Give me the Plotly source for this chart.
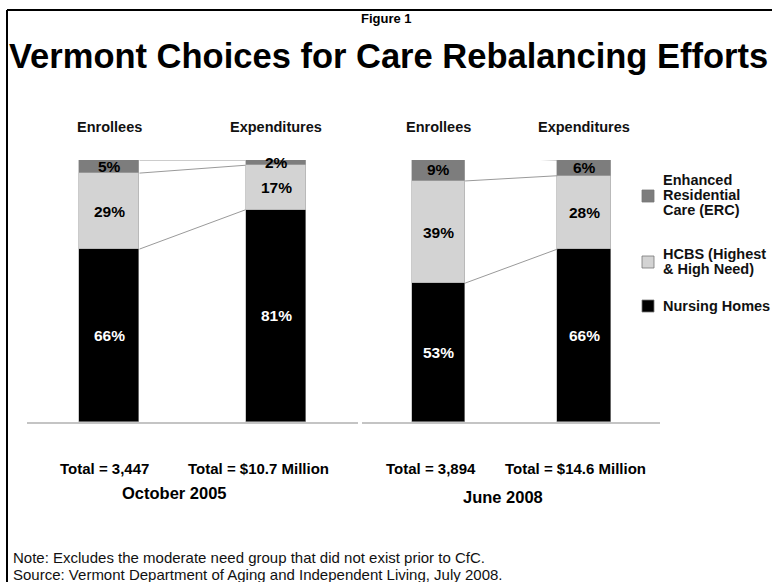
import plotly.graph_objects as go
import numpy as np

# ---- data ----
categories = ["Enrollees", "Expenditures"]
series_names = ["Nursing Homes", "HCBS (Highest & High Need)", "Enhanced Residential Care (ERC)"]
oct2005_nursing = [66, 81]
oct2005_hcbs = [29, 17]
oct2005_erc = [5, 2]
jun2008_nursing = [53, 66]
jun2008_hcbs = [39, 28]
jun2008_erc = [9, 6]
oct2005_totals = ["Total = 3,447", "Total = $10.7 Million"]
jun2008_totals = ["Total = 3,894", "Total = $14.6 Million"]
period_labels = ["October 2005", "June 2008"]
legend_lines = [["Enhanced", "Residential", "Care (ERC)"], ["HCBS (Highest", "& High Need)"], ["Nursing Homes"]]

colors = ["#000000", "#d3d3d3", "#7d7d7d"]
text_colors = ["white", "black", "black"]
FONT = "Liberation Sans, Arial, sans-serif"
W, H = 772, 582


def X(px):
    return px / W


def Y(py):
    return 1 - py / H


BAR_W = 0.365
fig = go.Figure()
annotations = []

panels = [
    ("x", "y", [oct2005_nursing, oct2005_hcbs, oct2005_erc]),
    ("x2", "y2", [jun2008_nursing, jun2008_hcbs, jun2008_erc]),
]

for xa, ya, seriesvals in panels:
    xs = [0, 1]
    base = np.zeros(2)
    tops = []
    for i, vals in enumerate(seriesvals):
        vals = np.array(vals, dtype=float)
        fig.add_trace(go.Bar(
            x=xs, y=vals, width=BAR_W, name=series_names[i],
            marker=dict(color=colors[i], line=dict(color="#a8a8a8", width=0.6)),
            xaxis=xa, yaxis=ya, showlegend=False, hoverinfo="skip",
        ))
        mids = base + vals / 2
        for j in range(2):
            annotations.append(dict(
                x=xs[j], y=mids[j], xref=xa, yref=ya, text=f"<b>{int(vals[j])}%</b>",
                showarrow=False, font=dict(family=FONT, size=15.5, color=text_colors[i]),
                yanchor="middle", xanchor="center"))
        base = base + vals
        tops.append(base.copy())
    # connector lines between bars at each cumulative level
    for lvl in tops:
        fig.add_trace(go.Scatter(
            x=[xs[0] + BAR_W / 2, xs[1] - BAR_W / 2], y=[lvl[0], lvl[1]],
            mode="lines", line=dict(color="#9a9a9a", width=1),
            xaxis=xa, yaxis=ya, showlegend=False, hoverinfo="skip"))
    for j, c in enumerate(categories):
        annotations.append(dict(
            x=xs[j], y=Y(127), xref=xa, yref="paper", text=f"<b>{c}</b>",
            showarrow=False, font=dict(family=FONT, size=14.5, color="#111"),
            yanchor="middle", xanchor="center"))

ydom = [Y(422), Y(160)]
axis_common = dict(showgrid=False, zeroline=False, showticklabels=False, ticks="",
                   showline=True, linecolor="#c4c4c4", linewidth=1.5, fixedrange=True)
fig.update_layout(
    width=W, height=H, margin=dict(l=0, r=0, t=0, b=0),
    paper_bgcolor="white", plot_bgcolor="white",
    barmode="stack", bargap=0,
    xaxis=dict(domain=[X(27), X(358)], range=[-0.491, 1.491], anchor="y", **axis_common),
    yaxis=dict(domain=ydom, range=[0, 100], visible=False, anchor="x"),
    xaxis2=dict(domain=[X(362), X(660)], range=[-0.526, 1.522], anchor="y2", **axis_common),
    yaxis2=dict(domain=ydom, range=[0, 100], visible=False, anchor="x2"),
)

# legend (manual)
shapes = []
leg_colors = [colors[2], colors[1], colors[0]]
leg_square_y = [196, 262, 306]
leg_text_y = [180, 254, 306]
for col, lines, sy, ty in zip(leg_colors, legend_lines, leg_square_y, leg_text_y):
    shapes.append(dict(type="rect", xref="paper", yref="paper",
                       x0=X(642), x1=X(654), y0=Y(sy + 6), y1=Y(sy - 6),
                       fillcolor=col, line=dict(color="#777", width=0.8)))
    for k, ln in enumerate(lines):
        annotations.append(dict(x=X(661), y=Y(ty + 15 * k), xref="paper", yref="paper", text=f"<b>{ln}</b>",
                                showarrow=False, align="left", xanchor="left", yanchor="middle",
                                font=dict(family=FONT, size=14.5, color="#111")))

# frame
shapes.append(dict(type="line", xref="paper", yref="paper", x0=X(7), x1=X(772), y0=Y(10), y1=Y(10),
                   line=dict(color="black", width=2)))
shapes.append(dict(type="line", xref="paper", yref="paper", x0=X(7), x1=X(7), y0=Y(10), y1=Y(582),
                   line=dict(color="black", width=2)))

# titles
annotations.append(dict(x=X(386), y=Y(18), xref="paper", yref="paper", text="<b>Figure 1</b>",
                        showarrow=False, font=dict(family=FONT, size=13, color="black"),
                        xanchor="center", yanchor="middle"))
annotations.append(dict(x=X(388), y=Y(56), xref="paper", yref="paper",
                        text="<b>Vermont Choices for Care Rebalancing Efforts</b>",
                        showarrow=False, font=dict(family=FONT, size=34.5, color="black"),
                        xanchor="center", yanchor="middle"))

# totals and periods
for txt, cx in zip(oct2005_totals + jun2008_totals, [104, 258, 431, 575]):
    annotations.append(dict(x=X(cx), y=Y(468), xref="paper", yref="paper", text=f"<b>{txt}</b>",
                            showarrow=False, font=dict(family=FONT, size=15, color="black"),
                            xanchor="center", yanchor="middle"))
for txt, cx, cy in zip(period_labels, [174, 503], [493, 497]):
    annotations.append(dict(x=X(cx), y=Y(cy), xref="paper", yref="paper", text=f"<b>{txt}</b>",
                            showarrow=False, font=dict(family=FONT, size=16.5, color="black"),
                            xanchor="center", yanchor="middle"))

# notes
annotations.append(dict(x=X(11), y=Y(557), xref="paper", yref="paper",
                        text="Note: Excludes the moderate need group that did not exist prior to CfC.",
                        showarrow=False, xanchor="left", yanchor="middle",
                        font=dict(family=FONT, size=15, color="#111")))
annotations.append(dict(x=X(11), y=Y(574), xref="paper", yref="paper",
                        text="Source: Vermont Department of Aging and Independent Living, July 2008.",
                        showarrow=False, xanchor="left", yanchor="middle",
                        font=dict(family=FONT, size=15, color="#111")))

fig.update_layout(annotations=annotations, shapes=shapes)
fig.write_html("out.html", config={"displayModeBar": False},
               post_script="document.body.style.margin='0px';document.body.style.overflow='hidden';")
